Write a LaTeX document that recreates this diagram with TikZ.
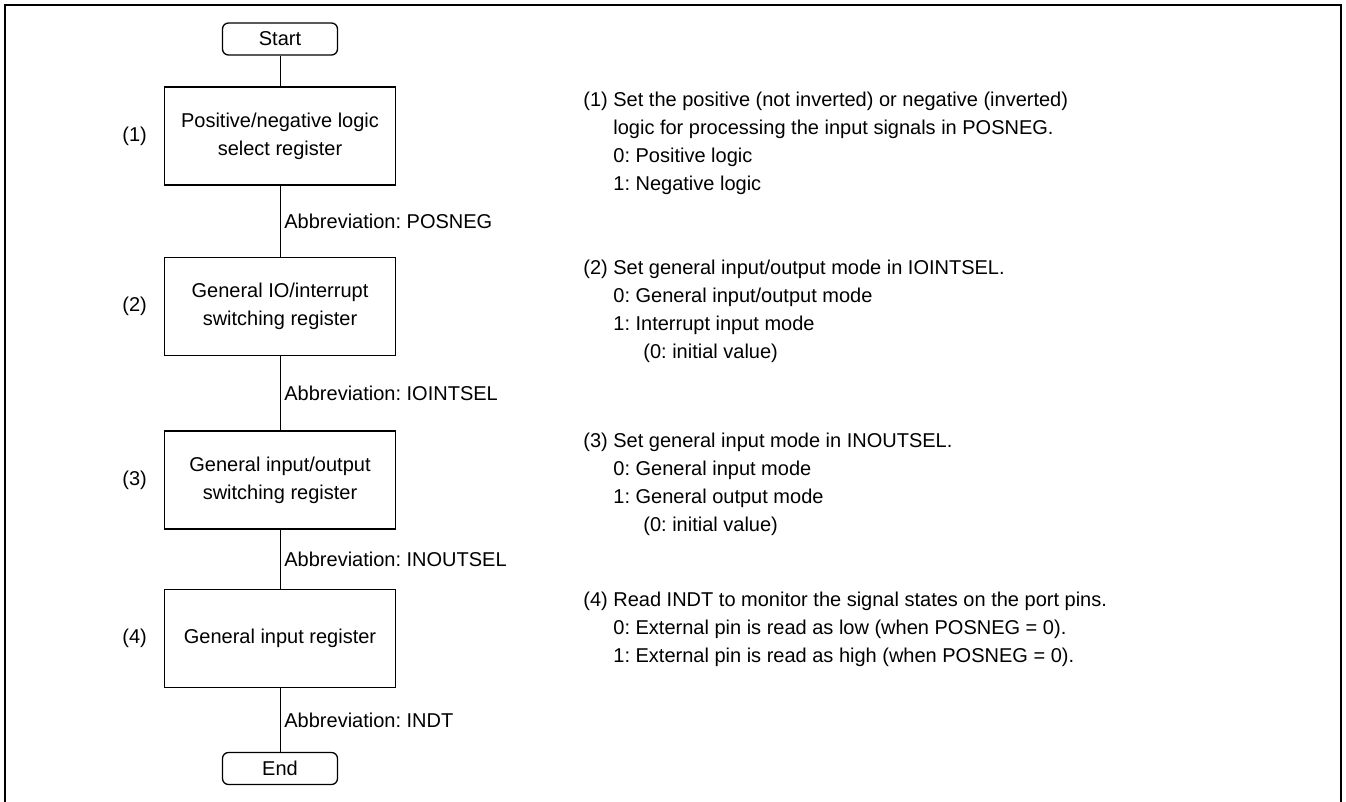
\documentclass[tikz,border=0pt]{standalone}
\usepackage{fontspec}
\setmainfont{Liberation Sans}
\usetikzlibrary{positioning}
\newcommand{\hangsp}{\hphantom{(1)\ }}

\begin{document}
\begin{tikzpicture}[
    x=0.5pt, y=-0.5pt,
    font=\fontsize{10}{14}\selectfont\frenchspacing,
    frame/.style={line width=1pt},
    term/.style={draw, line width=0.65pt, rounded corners=3pt, minimum width=57.5pt, minimum height=16pt, inner sep=0pt},
    reg/.style={draw, line width=0.65pt, minimum width=115.5pt, minimum height=49pt, align=center, inner sep=0pt},
    conn/.style={line width=0.4pt},
    abbr/.style={anchor=west, inner sep=2pt},
    note/.style={anchor=north west, align=left, inner sep=0pt}
]
\useasboundingbox (0,0) rectangle (1346,802);
\draw[frame] (5,802) |- (1341,5) -- (1341,802);

% flow
\node[term] (start) at (280,39) {Start};
\node[reg] (posneg) at (280,136) {Positive/negative logic\\select register};
\node[reg] (ioint) at (280,306.5) {General IO/interrupt\\switching register};
\node[reg] (inout) at (280,480) {General input/output\\switching register};
\node[reg] (indt) at (280,638.5) {General input register};
\node[term] (stop) at (280,768.5) {End};

\node[left=5pt of posneg] (n1) {(1)};
\node[left=5pt of ioint] (n2) {(2)};
\node[left=5pt of inout] (n3) {(3)};
\node[left=5pt of indt] (n4) {(4)};

\draw[conn] (start) -- (posneg);
\draw[conn] (posneg) -- node[abbr] {Abbreviation: POSNEG} (ioint);
\draw[conn] (ioint) -- node[abbr] {Abbreviation: IOINTSEL} (inout);
\draw[conn] (inout) -- node[abbr] {Abbreviation: INOUTSEL} (indt);
\draw[conn] (indt) -- node[abbr] {Abbreviation: INDT} (stop);

% notes
\node[note] (d1) at (583,92) {(1) Set the positive (not inverted) or negative (inverted)\\
    \hangsp logic for processing the input signals in POSNEG.\\
    \hangsp 0: Positive logic\\
    \hangsp 1: Negative logic};
\node[note] (d2) at (583,260) {(2) Set general input/output mode in IOINTSEL.\\
    \hangsp 0: General input/output mode\\
    \hangsp 1: Interrupt input mode\\
    \hangsp\hangsp (0: initial value)};
\node[note] (d3) at (583,433) {(3) Set general input mode in INOUTSEL.\\
    \hangsp 0: General input mode\\
    \hangsp 1: General output mode\\
    \hangsp\hangsp (0: initial value)};
\node[note] (d4) at (583,592) {(4) Read INDT to monitor the signal states on the port pins.\\
    \hangsp 0: External pin is read as low (when POSNEG = 0).\\
    \hangsp 1: External pin is read as high (when POSNEG = 0).};
\end{tikzpicture}
\end{document}
